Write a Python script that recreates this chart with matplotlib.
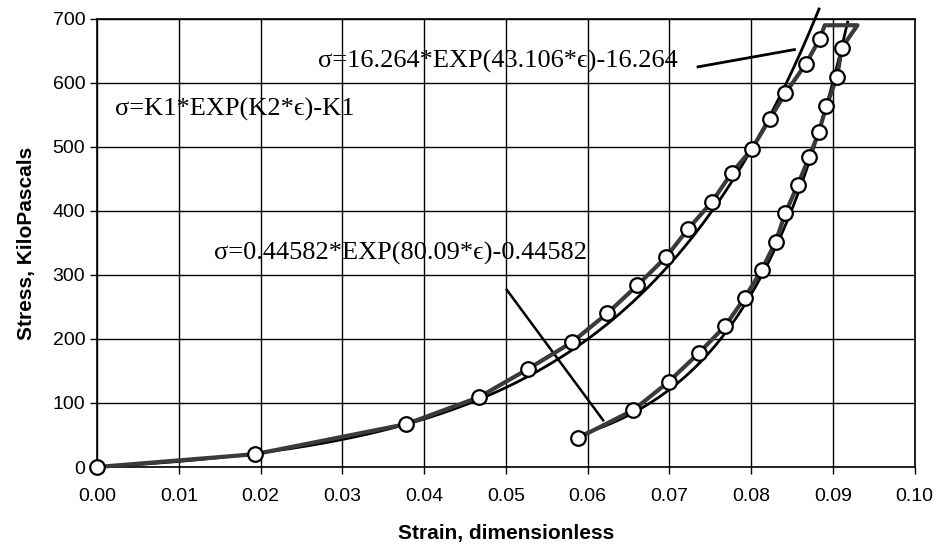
import numpy as np
import matplotlib.pyplot as plt

# Measured stress-strain data (loading, peak plateau, unloading)
load_strain = [0.0, 0.0193, 0.0378, 0.0467, 0.0527, 0.0581, 0.0624, 0.0661, 0.0696,
               0.0723, 0.0752, 0.0776, 0.0801, 0.0823, 0.0842, 0.0867, 0.0884]
load_stress = [0, 20, 67, 109, 153, 195, 240, 284, 328, 372, 414, 459, 497, 544, 584, 630, 669]
peak_strain = [0.0890, 0.0930]
peak_stress = [690, 690]
unload_strain = [0.0911, 0.0905, 0.0892, 0.0883, 0.0871, 0.0857, 0.0842, 0.0830, 0.0813,
                 0.0792, 0.0768, 0.0736, 0.0699, 0.0656, 0.0588]
unload_stress = [655, 609, 564, 524, 484, 441, 397, 352, 308, 264, 220, 178, 133, 89, 45]

# Fit constants: sigma = K1*exp(K2*eps) - K1
K_load = (16.264, 43.106)
K_unload = (0.44582, 80.09)
load_fit_range = (0.0, 0.0883)
unload_fit_range = (0.0588, 0.0918)

SERIF = ['Liberation Serif', 'DejaVu Serif']


def fit(eps, k1, k2):
    return k1 * np.exp(k2 * eps) - k1


def main():
    plt.rcParams['font.family'] = ['Liberation Sans', 'DejaVu Sans']
    fig = plt.figure(figsize=(9.42, 5.54), dpi=100)
    ax = fig.add_axes([0.103, 0.157, 0.868, 0.809])

    # fitted curves
    e1 = np.linspace(*load_fit_range, 200)
    ax.plot(e1, fit(e1, *K_load), color='black', lw=2, clip_on=False, zorder=3)
    e2 = np.linspace(*unload_fit_range, 200)
    ax.plot(e2, fit(e2, *K_unload), color='black', lw=2, clip_on=False, zorder=3)

    # measured data line and markers
    all_x = load_strain + peak_strain + unload_strain
    all_y = load_stress + peak_stress + unload_stress
    ax.plot(all_x, all_y, color='#3a3a3a', lw=3, zorder=4, clip_on=False)
    ax.plot(load_strain + unload_strain, load_stress + unload_stress, ls='none',
            marker='o', ms=10.5, mfc='white', mec='black', mew=1.6, zorder=5, clip_on=False)

    # annotations
    ax.text(0.0022, 558, "σ=K1*EXP(K2*ϵ)-K1", family=SERIF, fontsize=19, va='center')
    ax.text(0.0710, 633, "σ=16.264*EXP(43.106*ϵ)-16.264", family=SERIF, fontsize=19,
            va='center', ha='right')
    ax.plot([0.0735, 0.0853], [625, 652], color='black', lw=2)
    ax.text(0.0599, 334, "σ=0.44582*EXP(80.09*ϵ)-0.44582", family=SERIF, fontsize=19,
            va='center', ha='right')
    ax.plot([0.0501, 0.0619], [277, 73], color='black', lw=1.8)

    ax.set_xlim(0, 0.10)
    ax.set_ylim(0, 700)
    ax.set_xticks(np.arange(0, 0.1001, 0.01))
    ax.set_xticklabels([f"{v:.2f}" for v in np.arange(0, 0.1001, 0.01)])
    ax.set_yticks(np.arange(0, 701, 100))
    ax.grid(True, color='black', lw=1)
    ax.set_axisbelow(True)
    ax.tick_params(labelsize=14, length=5, width=1, direction='out', color='black')
    ax.tick_params(axis='x', pad=10)
    for s in ax.spines.values():
        s.set_linewidth(1.2)

    ax.set_xlabel("Strain, dimensionless", fontsize=15, fontweight='bold', labelpad=14)
    ax.set_ylabel("Stress, KiloPascals", fontsize=15, fontweight='bold', labelpad=12)

    fig.savefig("out.png", dpi=100)


if __name__ == '__main__':
    main()
